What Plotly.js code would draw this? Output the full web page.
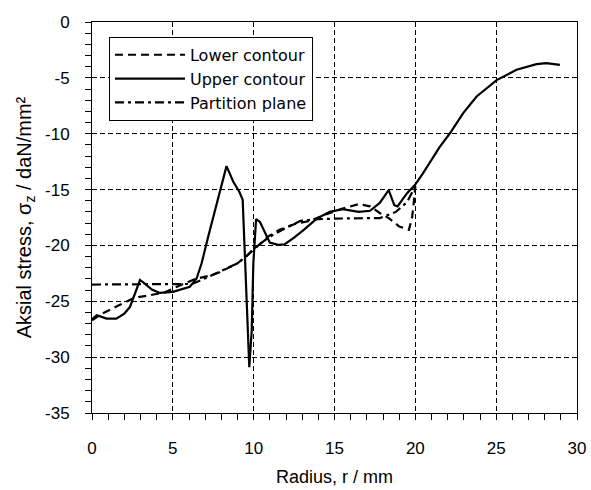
<!DOCTYPE html>
<html>
<head>
<meta charset="utf-8">
<script src="https://cdn.plot.ly/plotly-3.0.1.min.js"></script>
<style>html,body{margin:0;padding:0;background:#fff;}#chart{width:591px;height:490px;}</style>
</head>
<body>
<div id="chart"></div>
<script>
// Lower contour (dashed)
var lowerR = [0, 0.5, 1.6, 2.6, 3.6, 4.5, 5.4, 6.4, 7.3, 7.9, 8.3, 9.0, 9.6, 10.0, 10.3, 10.9, 11.6, 12.5, 13.5, 14.5, 15.5, 16.5, 17.2, 17.8, 18.4, 19.0, 19.6, 19.8, 19.9, 20.0];
var lowerS = [-26.7, -26.2, -25.4, -24.7, -24.45, -24.2, -23.6, -23.0, -22.7, -22.4, -22.1, -21.6, -20.9, -20.4, -20.0, -19.2, -18.6, -18.1, -17.8, -17.2, -16.7, -16.3, -16.5, -17.1, -17.6, -18.3, -18.6, -17.5, -16.2, -14.7];

// Upper contour (solid)
var upperR = [0, 0.3, 0.9, 1.5, 2.0, 2.35, 2.97, 3.17, 3.7, 4.2, 5.0, 6.05, 6.47, 6.78, 7.19, 7.91, 8.32, 8.74, 9.11, 9.32, 9.4, 9.57, 9.73, 9.88, 9.98, 10.15, 10.39, 11.0, 11.5, 11.9, 12.5, 13.1, 13.9, 14.7, 15.5, 16.5, 17.2, 17.8, 18.35, 18.7, 18.9, 19.5, 19.97, 20.45, 21.0, 21.5, 22.14, 22.96, 23.79, 25.03, 26.26, 27.5, 28.1, 28.94];
var upperS = [-26.6, -26.25, -26.55, -26.55, -26.1, -25.5, -23.1, -23.3, -23.95, -24.25, -24.15, -23.7, -22.96, -21.6, -19.2, -15.3, -12.9, -14.3, -15.2, -15.9, -18.6, -25.2, -30.9, -27.6, -21.6, -17.65, -17.9, -19.75, -19.95, -19.9, -19.3, -18.6, -17.6, -17.0, -16.75, -17.0, -16.9, -16.2, -15.05, -16.4, -16.5, -15.3, -14.6, -13.6, -12.4, -11.2, -9.96, -8.16, -6.67, -5.2, -4.28, -3.77, -3.68, -3.83];

// Partition plane (dash-dot)
var partR = [0, 6.2, 7.3, 8.3, 9.0, 9.6, 10.0, 10.9, 11.9, 12.9, 14.0, 15.0, 16.0, 17.0, 17.8, 18.8, 19.5, 20.0];
var partS = [-23.5, -23.45, -22.75, -22.1, -21.6, -20.9, -20.3, -19.3, -18.5, -17.8, -17.65, -17.6, -17.6, -17.55, -17.55, -17.0, -16.1, -14.7];

var names = ['Lower contour', 'Upper contour', 'Partition plane'];
var xTicks = [0, 5, 10, 15, 20, 25, 30];
var yTicks = [0, -5, -10, -15, -20, -25, -30, -35];

var font = 'Liberation Sans, Arial, sans-serif';
var traces = [
  {x: lowerR, y: lowerS, name: names[0], mode: 'lines', line: {color: '#000', width: 2.2, dash: '8px,5px'}},
  {x: upperR, y: upperS, name: names[1], mode: 'lines', line: {color: '#000', width: 2.2}},
  {x: partR, y: partS, name: names[2], mode: 'lines', line: {color: '#000', width: 2.2, dash: '9px,4px,3px,4px'}}
];

var axisCommon = {
  showline: true, linecolor: '#000', linewidth: 1, mirror: true,
  ticks: 'outside', ticklen: 6, tickwidth: 1, tickcolor: '#000',
  showgrid: true, gridcolor: '#000', gridwidth: 1, griddash: '5px,3px',
  zeroline: false, tickfont: {family: font, size: 17, color: '#000'},
  minor: {dtick: 1, ticks: 'outside', ticklen: 6, tickwidth: 1, tickcolor: '#000', showgrid: false}
};

var layout = {
  width: 591, height: 490,
  margin: {l: 92, r: 14, t: 22, b: 77},
  paper_bgcolor: '#fff', plot_bgcolor: '#fff',
  showlegend: true,
  legend: {x: 0.035, y: 0.962, xanchor: 'left', yanchor: 'top', bgcolor: '#fff', bordercolor: '#000', borderwidth: 1,
           font: {family: 'DejaVu Sans, sans-serif', size: 16, color: '#000'}, itemwidth: 70, tracegroupgap: 0},
  xaxis: Object.assign({}, axisCommon, {
    range: [0, 30], tickvals: xTicks, ticktext: xTicks.map(String), ticklabelstandoff: 14,
    title: {text: 'Radius, r / mm', font: {family: font, size: 18, color: '#000'}, standoff: 12}
  }),
  yaxis: Object.assign({}, axisCommon, {
    range: [-35, 0], tickvals: yTicks, ticktext: yTicks.map(String), ticklabelstandoff: 12,
    title: {text: 'Aksial stress, σ<sub>z</sub> / daN/mm²', font: {family: font, size: 20, color: '#000'}, standoff: 8}
  })
};

Plotly.newPlot('chart', traces, layout, {staticPlot: true, displayModeBar: false});
</script>
</body>
</html>
